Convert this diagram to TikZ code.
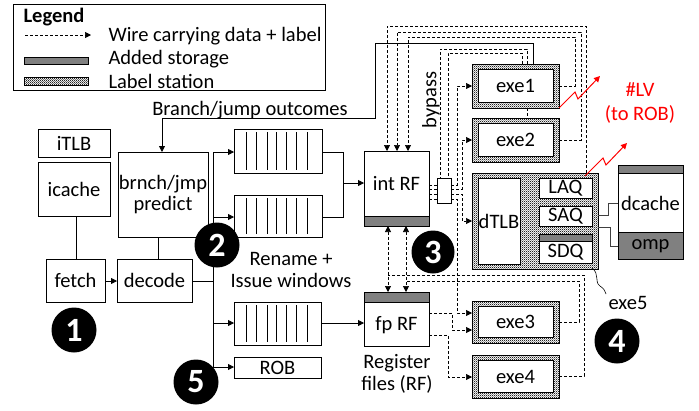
\documentclass[tikz,border=0pt]{standalone}
\usepackage{fontspec}
\setmainfont{Carlito}
\usetikzlibrary{arrows.meta,patterns,calc}
\pgfdeclarepatternformonly{stationdots}{\pgfqpoint{0pt}{0pt}}{\pgfqpoint{2.2pt}{2.2pt}}{\pgfqpoint{2.2pt}{2.2pt}}{\pgfpathrectangle{\pgfqpoint{0pt}{0pt}}{\pgfqpoint{1.1pt}{1.1pt}}\pgfpathrectangle{\pgfqpoint{1.1pt}{1.1pt}}{\pgfqpoint{1.1pt}{1.1pt}}\pgfusepath{fill}}
\definecolor{storage}{RGB}{128,128,128}
\definecolor{wiregray}{RGB}{64,64,64}
\begin{document}
\begin{tikzpicture}[x=1pt,y=-1pt,
  every node/.style={font=\fontsize{20.5}{24.5}\selectfont},
  box/.style={draw, line width=0.8pt, inner sep=0pt, outer sep=0pt, anchor=north west, align=center},
  station/.style={draw, line width=0.9pt, inner sep=0pt, outer sep=0pt, anchor=north west, preaction={fill=white}, pattern=stationdots, pattern color=black!85},
  inner/.style={draw, fill=white, line width=0.8pt, inner sep=0pt, outer sep=0pt, anchor=north west, align=center},
  wire/.style={line width=0.8pt},
  dwire/.style={line width=0.7pt, dash pattern=on 3pt off 2pt},
  arr/.style={-{Triangle[length=6pt,width=6pt]}},
  barr/.style={{Triangle[length=6pt,width=6pt]}-{Triangle[length=6pt,width=6pt]}},
  numc/.style={circle, fill=black, minimum size=45pt, inner sep=0pt, text=white, font=\fontsize{34}{34}\selectfont\bfseries},
  stor/.style={fill=storage, draw, line width=0.8pt}
]
\useasboundingbox (0,0) rectangle (699,410);

% ---------------- Legend
\node[box, minimum width=312, minimum height=86] (legend) at (13,4) {};
\node[anchor=west, font=\fontsize{20.5}{24.5}\selectfont\bfseries] (legtitle) at (20,17) {Legend};
\coordinate (ls1) at (25,35); \coordinate (le1) at (91,35);
\draw[dwire, arr] (ls1) -- (le1);
\node[anchor=west] (lt1) at (105,36) {Wire carrying data + label};
\draw[stor] (24,57) rectangle (88,64);
\node[anchor=west] (lt2) at (105,59) {Added storage};
\draw[line width=0.8pt, preaction={fill=white}, pattern=stationdots, pattern color=black!85] (24,77) rectangle (88,85);
\node[anchor=west] (lt3) at (105,81) {Label station};

% ---------------- Front end
\node[box, minimum width=72, minimum height=28] (itlb) at (38,129) {iTLB};
\node[box, minimum width=72, minimum height=54] (icache) at (38,162) {icache};
\node[box, minimum width=90, minimum height=85] (pred) at (118,152) {brnch/jmp\\[-3pt]predict};
\node[box, minimum width=59, minimum height=43] (fetch) at (46,259) {fetch};
\node[box, minimum width=75, minimum height=43] (decode) at (117,259) {decode};

% queues
\node[box, minimum width=88, minimum height=44] (q1) at (234,129) {};
\node[box, minimum width=88, minimum height=42] (q2) at (234,195) {};
\node[box, minimum width=87, minimum height=43] (q3) at (234,302) {};
\foreach \q in {q1,q2,q3}
  \foreach \d in {12,22.5,33,42,52,62.5,73}
    \draw[line width=0.6pt] ($(\q.north west)+(\d,3)$) -- ($(\q.south west)+(\d,-3)$);
\node[box, minimum width=87, minimum height=21] (rob) at (234,357) {ROB};

% register files
\node[box, minimum width=65, minimum height=75] (intrf) at (364,151) {};
\draw[stor] (364,216) rectangle (429,226);
\node (intrft) at (396.5,184) {int RF};
\node[box, minimum width=65, minimum height=54] (fprf) at (364,292) {};
\draw[stor] (364,292) rectangle (429,302);
\node (fprft) at (396.5,325) {fp RF};
\node[box, minimum width=14, minimum height=25] (mux) at (437,178) {};

% execution units
\node[station, minimum width=87, minimum height=44] (exe1) at (472,64) {};
\node[inner, minimum width=75, minimum height=33] (exe1i) at (478,69.5) {exe1};
\node[station, minimum width=87, minimum height=44] (exe2) at (472,118) {};
\node[inner, minimum width=75, minimum height=33] (exe2i) at (478,123.5) {exe2};
\node[station, minimum width=87, minimum height=42] (exe3) at (472,301) {};
\node[inner, minimum width=75, minimum height=31] (exe3i) at (478,306.5) {exe3};
\node[station, minimum width=87, minimum height=43] (exe4) at (472,355) {};
\node[inner, minimum width=75, minimum height=32] (exe4i) at (478,360.5) {exe4};

% LSU
\node[station, minimum width=126, minimum height=96] (lsu) at (472,173) {};
\node[inner, minimum width=42, minimum height=86] (dtlb) at (478,178) {dTLB};
\node[inner, minimum width=53, minimum height=20] (laq) at (539,178) {LAQ};
\node[inner, minimum width=53, minimum height=20] (saq) at (539,206) {SAQ};
\node[inner, minimum width=53, minimum height=29] (sdq) at (539,234) {};
\draw[stor] (539,234) rectangle (592,241);
\node (sdqt) at (565.5,252.5) {SDQ};

% dcache
\node[box, minimum width=65, minimum height=94] (dcache) at (618,165) {};
\draw[stor] (618,165) rectangle (683,173);
\draw[stor] (618,232) rectangle (683,259);
\node (dct) at (650.5,203) {dcache};
\node (ompt) at (650.5,246) {omp};

% ---------------- Solid connectors
\draw[wire] (icache.south -| 76,0) -- (fetch.north -| 76,0);
\draw[wire] (pred.south -| 158,0) -- (decode.north -| 158,0);
\draw[wire, arr] (fetch.east |- 0,281) -- (decode.west |- 0,281);
\coordinate (tr1) at (213,152);
\coordinate (tr2) at (213,367);
\draw[wire] (tr1) -- (tr2);
\draw[wire] (decode.east |- 0,281) -- (213,281);
\draw[wire, arr] (tr1) -- (q1.west |- 0,152);
\draw[wire, arr] (213,217) -- (q2.west |- 0,217);
\draw[wire, arr] (213,323) -- (q3.west |- 0,323);
\draw[wire, arr] (213,367) -- (rob.west |- 0,367);
\draw[wire] (q1.east |- 0,152) -| (343,217) -- (q2.east |- 0,217);
\draw[wire, arr] (343,183) -- (intrf.west |- 0,183);
\draw[wire, arr] (q3.east |- 0,323) -- (fprf.west |- 0,323);
% branch/jump outcomes
\draw[wire, arr] (exe1.north -| 533,0) -- (533,43) -- (375,43) -- (375,118) -- (162,118) -- (pred.north -| 162,0);
\node (bjo) at (250,110) {Branch/jump outcomes};

% ---------------- Dashed wires back to RFs
\draw[dwire, arr] (exe1.east |- 0,86) -- (575,86) -- (575,37) -- (408,37) -- (intrf.north -| 408,0);
\draw[dwire, arr] (exe2.east |- 0,140) -- (581,140) -- (581,32) -- (397,32) -- (intrf.north -| 397,0);
\draw[dwire, arr] (lsu.north -| 586,0) -- (586,26) -- (387,26) -- (intrf.north -| 387,0);
\draw[dwire, barr] (intrf.south -| 388,0) -- (fprf.north -| 388,0);
\draw[dwire, barr] (intrf.south -| 406,0) -- (fprf.north -| 406,0);
\draw[dwire] (exe4.east |- 0,376) -- (584,376) -- (584,275) -- (388,275);
\draw[dwire] (exe3.east |- 0,322) -- (579,322) -- (579,281) -- (406,281);

% bypass
\draw[dwire] (exe1.north -| 522,0) -- (522,53) -- (448,53) -- (mux.north -| 448,0);
\draw[dwire] (exe1.north -| 527,0) -- (527,49) -- (440,49) -- (mux.north -| 440,0);
\draw[dwire] (exe1.south -| 527,0) -- (exe2.north -| 527,0);
\node[rotate=90] (bypass) at (431,100) {bypass};

% int RF -> mux
\foreach \yy in {185,189,194,199}
  \draw[dwire] (intrf.east |- 0,\yy) -- (mux.west |- 0,\yy);
\draw[dwire, arr] (mux.east |- 0,185) -- (457,185) -- (457,86) -- (exe1.west |- 0,86);
\draw[dwire, arr] (mux.east |- 0,189) -- (462,189) -- (462,140) -- (exe2.west |- 0,140);
\draw[dwire, arr] (mux.east |- 0,194) -- (462,194) -- (462,221) -- (lsu.west |- 0,221);
\draw[dwire, arr] (mux.east |- 0,199) -- (457,199) -- (457,313) -- (exe3.west |- 0,313);
% fp RF -> exe3/exe4
\draw[dwire, arr] (fprf.east |- 0,313) -- (452,313) -- (452,330) -- (exe3.west |- 0,330);
\draw[dwire, arr] (fprf.east |- 0,335) -- (448,335) -- (448,377) -- (exe4.west |- 0,377);

% LSU -> dcache
\draw[wiregray, line width=0.8pt] (lsu.east |- 0,215) -- (608,215) -- (608,203) -- (dcache.west |- 0,203);
\draw[wiregray, line width=0.8pt] (lsu.east |- 0,227) -- (610,227) -- (610,246) -- (dcache.west |- 0,246);

% exe5 label
\node (exe5) at (628,303) {exe5};
\draw[line width=0.6pt] (592,268) .. controls (600,274) and (594,282) .. (600,286) .. controls (604,289) .. (606,294);

% ---------------- #LV
\draw[red, line width=1pt, arr] (exe1.south east) -- (575,92) -- (578,99) -- (600,76);
\draw[red, line width=1pt, arr] (585,176) -- (603,158) -- (606,165) -- (627,143);
\node[text=red, align=center] (lv) at (640,103) {\#LV\\(to ROB)};

% ---------------- labels
\node[align=center] (rename) at (291,270) {Rename +\\[-2pt]Issue windows};
\node[align=center] (regf) at (397,374) {Register\\[-2pt]files (RF)};

% ---------------- numbered circles
\node[numc] (n1) at (74,330) {1};
\node[numc] (n2) at (217,245) {2};
\node[numc, minimum size=43pt] (n3) at (433,252) {3};
\node[numc] (n4) at (617,341) {4};
\node[numc] (n5) at (196,382) {5};
\end{tikzpicture}
\end{document}
